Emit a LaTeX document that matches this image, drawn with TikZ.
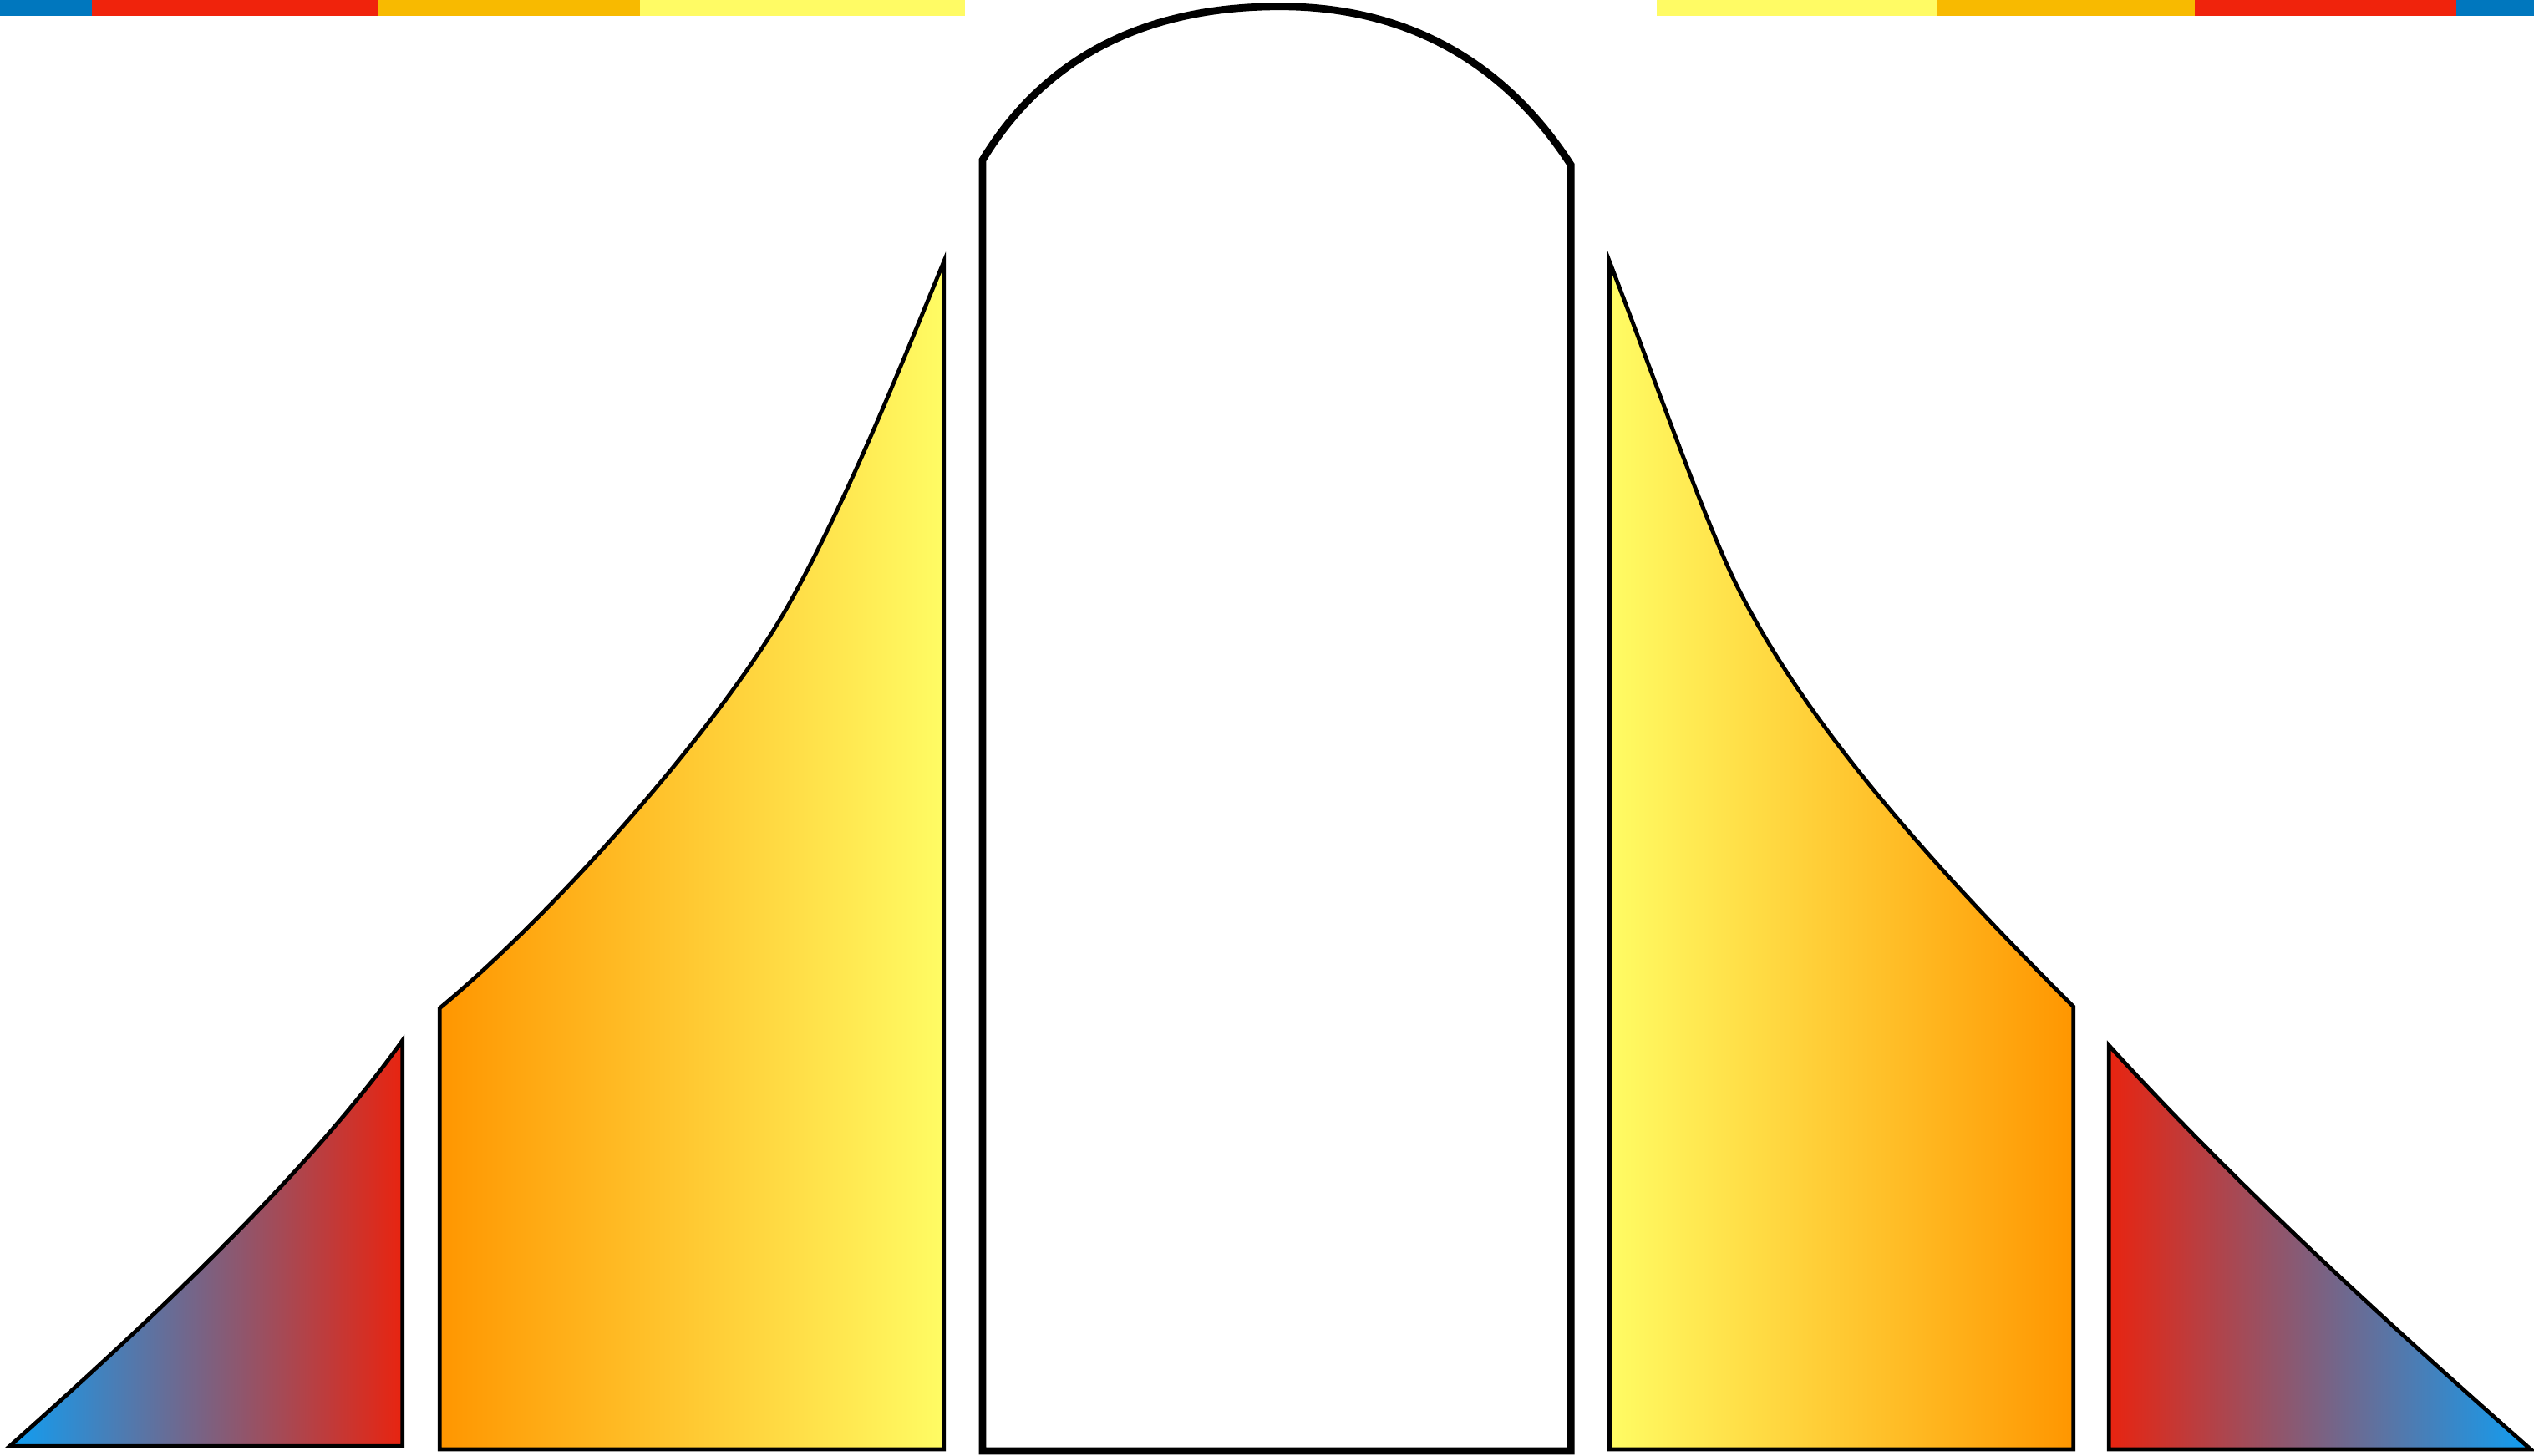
\documentclass[tikz,border=0pt]{standalone}
\usepackage{xcolor}

\definecolor{barblue}{RGB}{0,119,190}
\definecolor{barred}{RGB}{240,35,12}
\definecolor{barorange}{RGB}{248,186,0}
\definecolor{baryellow}{RGB}{255,251,100}
\definecolor{tailblue}{RGB}{16,158,242}
\definecolor{tailred}{RGB}{232,36,16}
\definecolor{sideorange}{RGB}{255,150,0}
\definecolor{sideyellow}{RGB}{255,252,100}

\begin{document}
\begin{tikzpicture}[
    x=0.01cm, y=-0.01cm,
    thinedge/.style={draw=black, line width=0.7pt},
    thickedge/.style={draw=black, line width=1.3pt, fill=white}
]
\useasboundingbox (0,0) rectangle (1568,901);

% Colour bars
\fill[barblue] (0,0) rectangle (57,10);
\fill[barred] (57,0) rectangle (234,10);
\fill[barorange] (234,0) rectangle (396,10);
\fill[baryellow] (396,0) rectangle (597,10);
\fill[baryellow] (1025,0) rectangle (1199,10);
\fill[barorange] (1199,0) rectangle (1358,10);
\fill[barred] (1358,0) rectangle (1520,10);
\fill[barblue] (1520,0) rectangle (1568,10);

% Outer tails
\draw[thinedge, left color=tailblue, right color=tailred]
    (6,895) .. controls (106,806) and (194,721) .. (249,644) -- (249,895) -- cycle;
\draw[thinedge, left color=tailred, right color=tailblue]
    (1305,647) .. controls (1385,735) and (1481,822) .. (1566,897) -- (1305,897) -- cycle;

% Shoulders
\draw[thinedge, left color=sideorange, right color=sideyellow]
    (272,897) -- (272,624) .. controls (347,562) and (449,444.5) .. (489,372.5)
    .. controls (524,309.5) and (554,235) .. (584,162) -- (584,897) -- cycle;
\draw[thinedge, left color=sideyellow, right color=sideorange]
    (996,897) -- (996,162) .. controls (1023,232) and (1055,323) .. (1075,363)
    .. controls (1120,453) and (1203,543) .. (1283,623) -- (1283,897) -- cycle;

% Centre
\draw[thickedge]
    (608,898) -- (608,99) .. controls (648,33) and (712,4) .. (792,4)
    .. controls (872,4) and (932,40) .. (972,102) -- (972,898) -- cycle;
\end{tikzpicture}
\end{document}
